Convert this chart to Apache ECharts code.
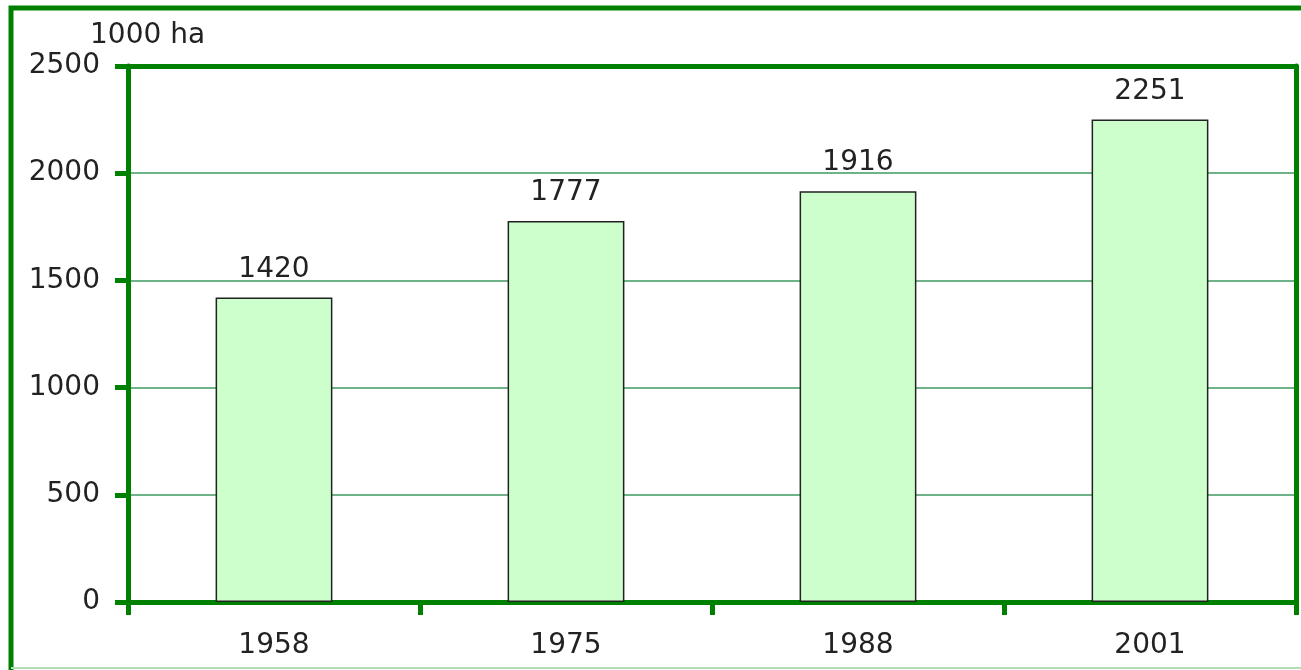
<!DOCTYPE html>
<html><head><meta charset="utf-8">
<script src="https://cdn.jsdelivr.net/npm/echarts@6/dist/echarts.min.js"></script>
<style>html,body{margin:0;padding:0;background:#fff}#c{width:1301px;height:670px}</style>
</head><body><div id="c"></div>
<script>
const years = ['1958', '1975', '1988', '2001'];
const areas = [1420, 1777, 1916, 2251];
const unitLabel = '1000 ha';

const green = '#008000';
const font = 'DejaVu Sans';
const txt = '#222';
const fs = 28;
const chart = echarts.init(document.getElementById('c'));
chart.setOption({
  animation: false,
  backgroundColor: '#ffffff',
  title: { text: unitLabel, left: 85, top: 17, textStyle: { fontFamily: font, fontSize: fs, fontWeight: 'normal', color: txt } },
  grid: { left: 128, top: 66, right: 5, bottom: 68 },
  xAxis: [{
    type: 'category', data: years, boundaryGap: true,
    axisLine: { onZero: false, lineStyle: { color: green, width: 5 } },
    axisTick: { show: true, interval: 0, length: 13, lineStyle: { color: green, width: 5 } },
    axisLabel: { margin: 30, fontFamily: font, fontSize: fs, color: txt }
  }, {
    type: 'category', data: years, position: 'top',
    axisLine: { show: true, onZero: false, lineStyle: { color: green, width: 5 } },
    axisTick: { show: false }, axisLabel: { show: false }, splitLine: { show: false }
  }],
  yAxis: [{
    type: 'value', min: 0, max: 2500, interval: 500,
    axisLine: { show: true, onZero: false, lineStyle: { color: green, width: 5 } },
    axisTick: { show: true, length: 13, lineStyle: { color: green, width: 5 } },
    axisLabel: { margin: 28, fontFamily: font, fontSize: fs, color: txt, formatter: v => String(v) },
    splitLine: { show: true, lineStyle: { color: '#3c9a5f', width: 1.5 } }
  }, {
    type: 'value', min: 0, max: 2500, interval: 500, position: 'right',
    axisLine: { show: true, onZero: false, lineStyle: { color: green, width: 5 } },
    axisTick: { show: false }, axisLabel: { show: false }, splitLine: { show: false }
  }],
  series: [{
    type: 'bar', data: areas, barWidth: '40%',
    itemStyle: { color: '#ccffcc', borderColor: '#222', borderWidth: 1.5 },
    label: { show: true, position: 'top', distance: 14, fontFamily: font, fontSize: fs, color: txt }
  }],
  graphic: [
    { type: 'polyline', shape: { points: [[11, 680], [11, 8], [1310, 8]] }, style: { stroke: green, lineWidth: 5, fill: null }, z: 100 },
    { type: 'line', shape: { x1: 11, y1: 668, x2: 1310, y2: 668 }, style: { stroke: '#b5dcb5', lineWidth: 2 }, z: 100 }
  ]
});
</script></body></html>
